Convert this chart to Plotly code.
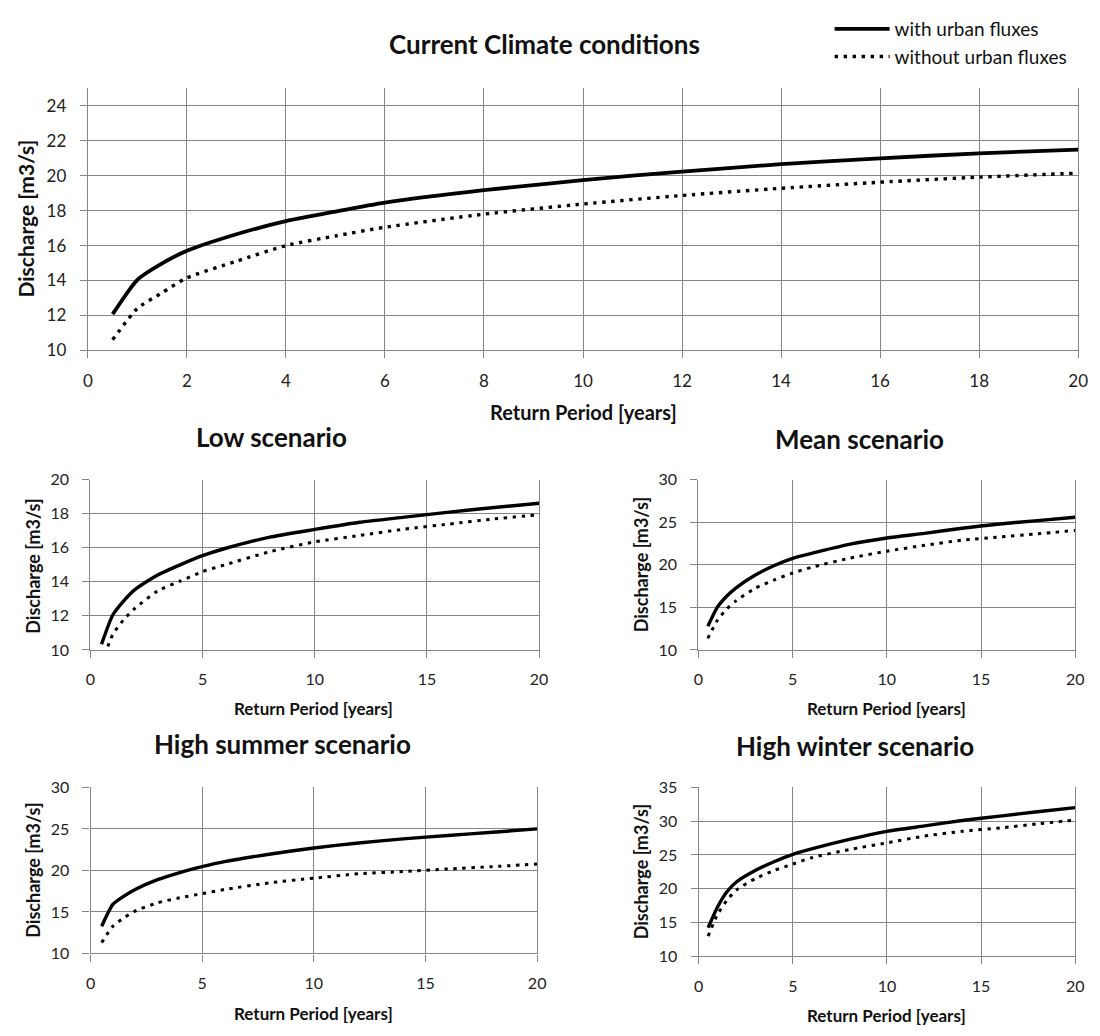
import plotly.graph_objects as go

W, H = 1100, 1036

return_period = [0.5, 1, 1.5, 2, 3, 4, 5, 6, 8, 10, 12, 14, 16, 18, 20]

current_with = [12.07, 14.04, 14.98, 15.7, 16.65, 17.4, 17.95, 18.46, 19.17, 19.75, 20.24, 20.66, 21.0, 21.28, 21.5]
current_without = [10.6, 12.4, 13.3, 14.15, 15.1, 16.0, 16.55, 17.05, 17.8, 18.38, 18.87, 19.28, 19.63, 19.92, 20.15]
low_with = [10.33, 12.05, 12.9, 13.56, 14.4, 15.0, 15.54, 15.96, 16.63, 17.08, 17.5, 17.8, 18.1, 18.37, 18.62]
low_without = [9.2, 10.9, 11.8, 12.46, 13.46, 14.04, 14.6, 15.0, 15.77, 16.35, 16.73, 17.1, 17.4, 17.7, 17.94]
mean_with = [12.77, 15.0, 16.3, 17.3, 18.77, 19.9, 20.77, 21.35, 22.4, 23.15, 23.7, 24.3, 24.8, 25.2, 25.6]
mean_without = [11.35, 13.46, 14.8, 15.77, 17.23, 18.2, 19.04, 19.7, 20.77, 21.6, 22.3, 22.9, 23.27, 23.65, 24.04]
summer_with = [13.27, 15.9, 16.9, 17.7, 18.88, 19.74, 20.45, 21.05, 21.95, 22.7, 23.3, 23.8, 24.2, 24.6, 25.0]
summer_without = [11.3, 13.27, 14.3, 15.1, 16.1, 16.7, 17.2, 17.7, 18.5, 19.07, 19.6, 19.86, 20.18, 20.45, 20.77]
winter_with = [14.25, 17.3, 19.56, 21.0, 22.7, 24.0, 25.1, 25.9, 27.3, 28.5, 29.3, 30.1, 30.75, 31.4, 32.0]
winter_without = [13.0, 16.2, 18.3, 19.8, 21.5, 22.7, 23.66, 24.6, 25.8, 26.8, 27.8, 28.5, 29.0, 29.6, 30.17]

panel_titles = ["Current Climate conditions", "Low scenario", "Mean scenario",
                "High summer scenario", "High winter scenario"]
series_names = ["with urban fluxes", "without urban fluxes"]
x_title = "Return Period [years]"
y_title = "Discharge [m3/s]"

FONT = "Lato, 'Open Sans', sans-serif"
GRID = "#858585"

# panel layout in pixels: (left, right, top, bottom)
panels = [
    dict(data=(current_with, current_without), box=(84, 1088, 80, 347), yr=(10, 25), ydt=2, xdt=2, tick=17, lw=3.8),
    dict(data=(low_with, low_without), box=(86.5, 541.5, 479, 652.5), yr=(10, 20), ydt=2, xdt=5, tick=16, lw=3.4),
    dict(data=(mean_with, mean_without), box=(703, 1085, 479, 652.5), yr=(10, 30), ydt=5, xdt=5, tick=16, lw=3.4),
    dict(data=(summer_with, summer_without), box=(86.7, 539.5, 792.7, 962), yr=(10, 30), ydt=5, xdt=5, tick=16, lw=3.4),
    dict(data=(winter_with, winter_without), box=(703.3, 1085, 792.7, 965), yr=(10, 35), ydt=5, xdt=5, tick=16, lw=3.4),
]

fig = go.Figure()
layout = {}
for i, p in enumerate(panels):
    n = "" if i == 0 else str(i + 1)
    l, r, t, b = p["box"]
    with_vals, without_vals = p["data"]
    fig.add_trace(go.Scatter(
        x=return_period, y=with_vals, mode="lines", name=series_names[0],
        line=dict(color="black", width=p["lw"], shape="spline", smoothing=0.6),
        xaxis="x" + n, yaxis="y" + n, showlegend=(i == 0)))
    fig.add_trace(go.Scatter(
        x=return_period, y=without_vals, mode="lines", name=series_names[1],
        line=dict(color="black", width=p["lw"] - 0.4, dash="3.4px,5.6px", shape="spline", smoothing=0.6),
        xaxis="x" + n, yaxis="y" + n, showlegend=(i == 0)))
    common = dict(showgrid=True, gridcolor=GRID, gridwidth=1.2, zeroline=False,
                  showline=True, linecolor=GRID, linewidth=1.2,
                  ticks="outside", ticklen=7, tickcolor=GRID, tickwidth=1.2,
                  tickfont=dict(family=FONT, size=p["tick"], color="#222"))
    layout["xaxis" + n] = dict(common, domain=[l / W, r / W], range=[0, 20], dtick=p["xdt"],
                               tick0=0, anchor="y" + n, ticklabelstandoff=8)
    layout["yaxis" + n] = dict(common, domain=[1 - b / H, 1 - t / H], range=list(p["yr"]),
                               dtick=p["ydt"], tick0=10, anchor="x" + n, mirror=True,
                               ticklabelstandoff=10)

fig.update_layout(**layout)

def ann(text, x, y, size, bold=True, angle=0):
    return dict(text=("<b>%s</b>" % text) if bold else text, x=x / W, y=1 - y / H,
                xref="paper", yref="paper", showarrow=False, textangle=angle,
                xanchor="center", yanchor="middle",
                font=dict(family=FONT, size=size, color="#111"))

annotations = [
    ann(panel_titles[0], 547, 35, 26),
    ann(panel_titles[1], 270, 435, 26),
    ann(panel_titles[2], 866, 437, 26),
    ann(panel_titles[3], 281, 748, 26),
    ann(panel_titles[4], 862, 750, 26),
    ann(x_title, 586, 410, 20),
    ann(x_title, 313, 712, 17),
    ann(x_title, 894, 712, 17),
    ann(x_title, 313, 1023, 17),
    ann(x_title, 894, 1025, 17),
    ann(y_title, 21, 213, 21, angle=-90),
    ann(y_title, 28, 567, 18, angle=-90),
    ann(y_title, 645, 566, 18, angle=-90),
    ann(y_title, 28, 877, 18, angle=-90),
    ann(y_title, 645, 879, 18, angle=-90),
]

fig.update_layout(
    width=W, height=H, margin=dict(l=0, r=0, t=0, b=0),
    paper_bgcolor="white", plot_bgcolor="white",
    annotations=annotations,
    showlegend=True,
    legend=dict(x=836 / W, y=1.0, xanchor="left", yanchor="top",
                bgcolor="rgba(0,0,0,0)", itemwidth=55,
                font=dict(family=FONT, size=19, color="#111"), tracegroupgap=0),
)

fig.write_html("out.html")
